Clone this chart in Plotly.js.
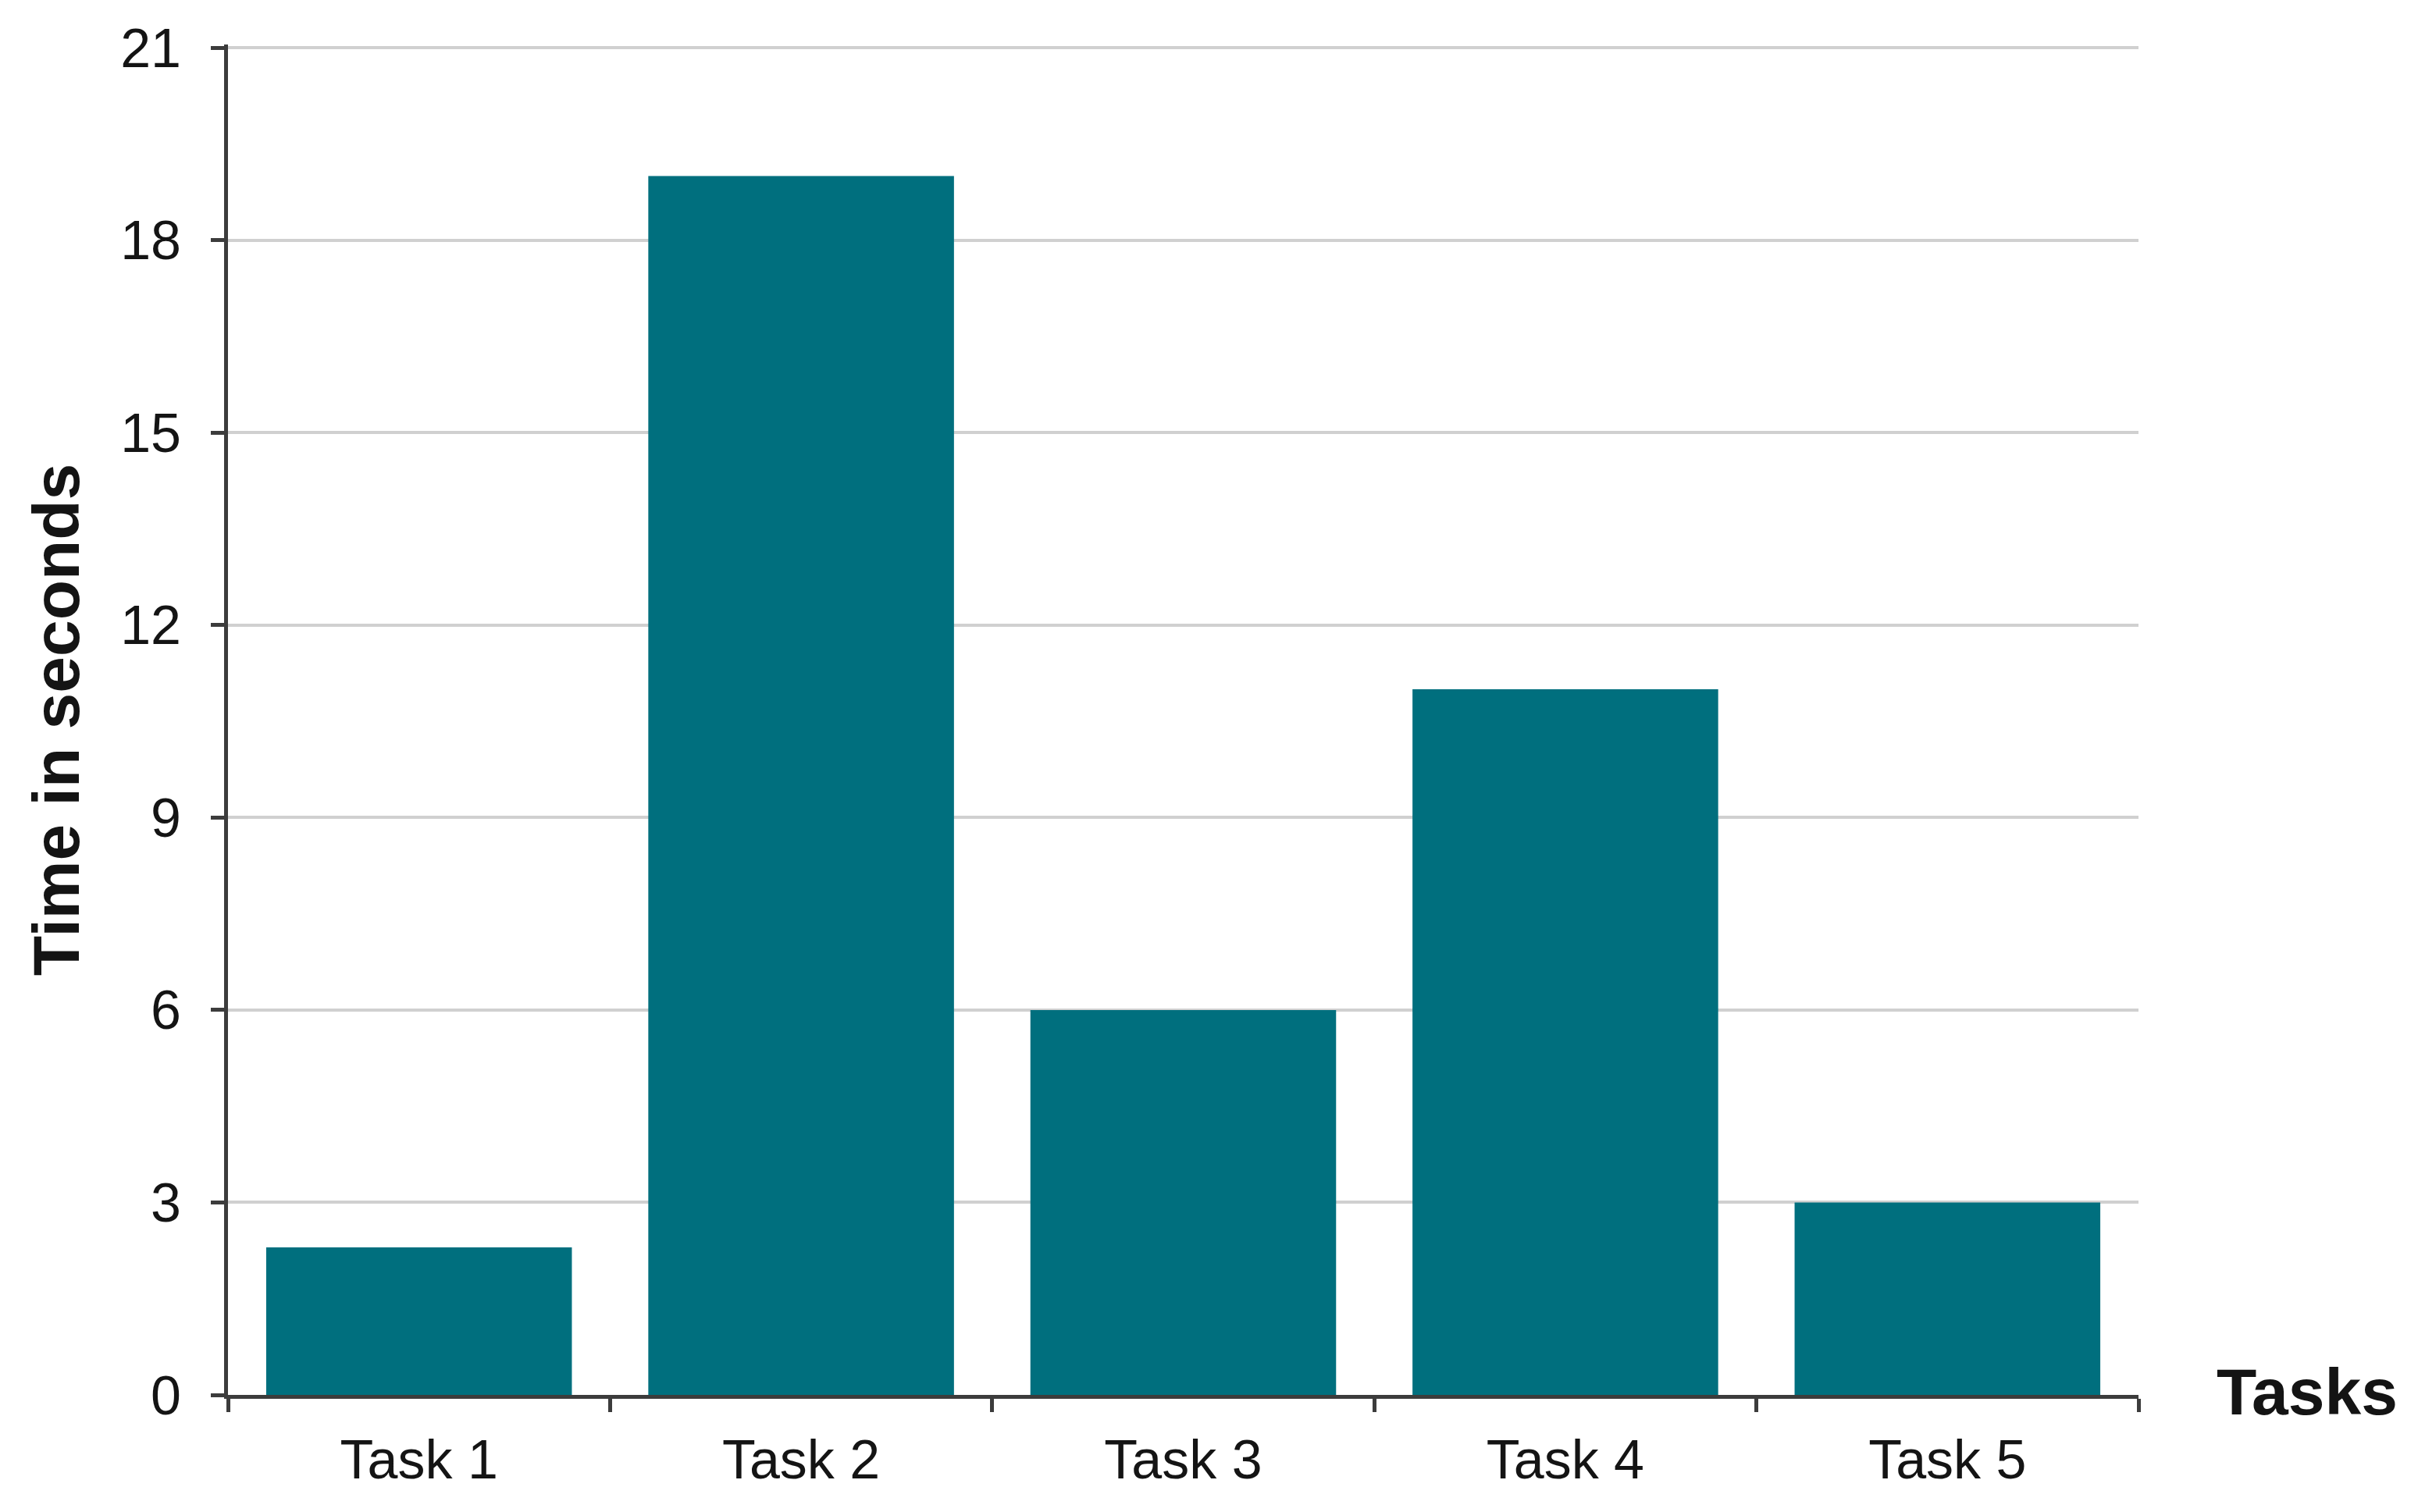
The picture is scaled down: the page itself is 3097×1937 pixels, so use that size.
<!DOCTYPE html>
<html>
<head>
<meta charset="utf-8">
<script src="https://cdn.plot.ly/plotly-3.0.1.min.js"></script>
<style>
html,body{margin:0;padding:0;background:#fff;}
#chart{width:3097px;height:1937px;}
</style>
</head>
<body>
<div id="chart"></div>
<script>
const categories = ["Task 1", "Task 2", "Task 3", "Task 4", "Task 5"];
const timeSeconds = [2.3, 19, 6, 11, 3];
const yTickValues = [0, 3, 6, 9, 12, 15, 18, 21];
const yTitle = "Time in seconds";
const xTitle = "Tasks";

const font = "Liberation Sans, Arial, Helvetica, sans-serif";
const textColor = "#141414";
const axisColor = "#3c3c3c";

const data = [{
  type: "bar",
  x: categories,
  y: timeSeconds,
  marker: {color: "#006f7e", line: {width: 0}},
  hoverinfo: "x+y"
}];

const layout = {
  width: 3097,
  height: 1937,
  paper_bgcolor: "#ffffff",
  plot_bgcolor: "#ffffff",
  margin: {l: 292, r: 358, t: 57, b: 150, autoexpand: false},
  bargap: 0.2,
  showlegend: false,
  font: {family: font, color: textColor, size: 70},
  xaxis: {
    type: "category",
    tickson: "boundaries",
    ticks: "outside",
    ticklen: 17,
    tickwidth: 5,
    tickcolor: axisColor,
    showline: true,
    linewidth: 5,
    linecolor: axisColor,
    showgrid: false,
    zeroline: false,
    tickfont: {family: font, size: 70, color: textColor},
    ticklabelstandoff: 18,
    automargin: false
  },
  yaxis: {
    range: [0, 21.05],
    tickvals: yTickValues,
    ticktext: yTickValues.map(String),
    ticks: "outside",
    ticklen: 17,
    tickwidth: 5,
    tickcolor: axisColor,
    showline: true,
    linewidth: 5,
    linecolor: axisColor,
    showgrid: true,
    gridcolor: "#d0d0d0",
    gridwidth: 4,
    zeroline: false,
    tickfont: {family: font, size: 70, color: textColor},
    ticklabelstandoff: 24,
    title: {text: yTitle, font: {family: font, size: 84, color: textColor, weight: "bold"}, standoff: 26},
    automargin: false
  },
  annotations: [{
    text: "<b>" + xTitle + "</b>",
    xref: "paper", yref: "y",
    x: 1.04, y: 0.05,
    xanchor: "left", yanchor: "middle",
    showarrow: false,
    font: {family: font, size: 84, color: textColor}
  }]
};

Plotly.newPlot("chart", data, layout, {displayModeBar: false, responsive: false});
</script>
</body>
</html>
